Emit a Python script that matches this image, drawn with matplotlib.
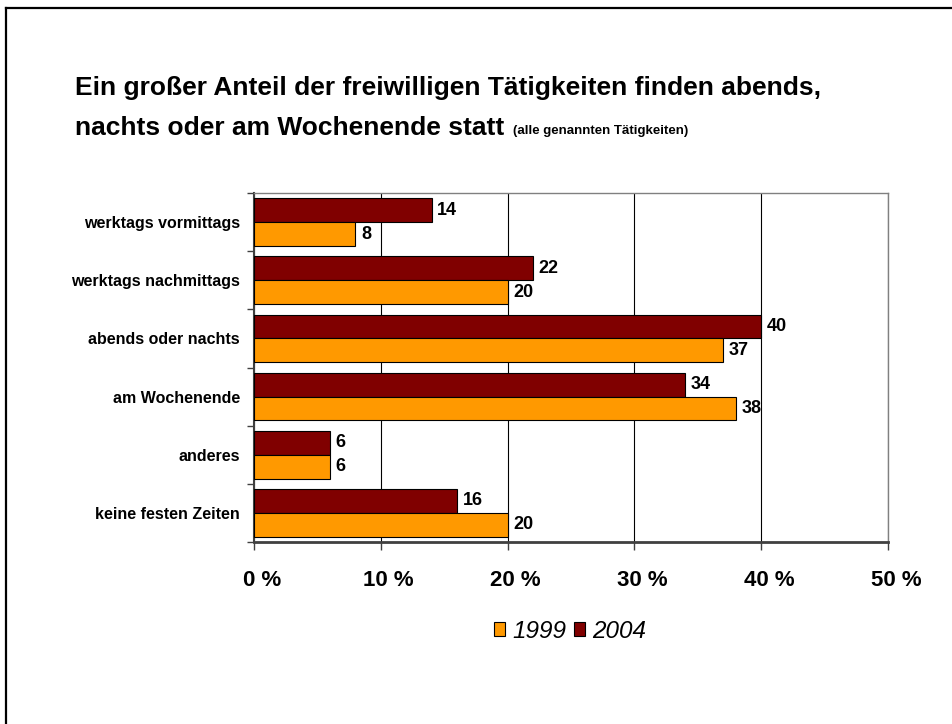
import matplotlib
matplotlib.use("Agg")
import matplotlib.pyplot as plt
from matplotlib.lines import Line2D
from matplotlib.transforms import ScaledTranslation
import numpy as np

plt.rcParams['font.family'] = ['Liberation Sans', 'DejaVu Sans']

categories = ["werktags vormittags", "werktags nachmittags", "abends oder nachts",
              "am Wochenende", "anderes", "keine festen Zeiten"]
values_1999 = [8, 20, 37, 38, 6, 20]
values_2004 = [14, 22, 40, 34, 6, 16]
xticks = [0, 10, 20, 30, 40, 50]
xtick_labels = ["0 %", "10 %", "20 %", "30 %", "40 %", "50 %"]
series_names = ["1999", "2004"]
col_1999 = "#FF9900"
col_2004 = "#800000"

W, H = 953, 724
fig = plt.figure(figsize=(W / 100, H / 100), dpi=100)

# outer frame (only top and left visible)
fig.add_artist(Line2D([6 / W, 1.0], [1 - 8 / H, 1 - 8 / H], color="black", lw=1.6,
                      transform=fig.transFigure))
fig.add_artist(Line2D([6 / W, 6 / W], [1 - 8 / H, 0.0], color="black", lw=1.6,
                      transform=fig.transFigure))

left, right = 254 / W, 888 / W
top, bottom = 1 - 193 / H, 1 - 542 / H
ax = fig.add_axes([left, bottom, right - left, top - bottom])

y = np.arange(len(categories))
h = 0.41
b04 = ax.barh(y - h / 2, values_2004, height=h, color=col_2004, edgecolor="black",
              linewidth=0.8, zorder=3, label=series_names[1])
b99 = ax.barh(y + h / 2, values_1999, height=h, color=col_1999, edgecolor="black",
              linewidth=0.8, zorder=3, label=series_names[0])

for bars, vals in ((b04, values_2004), (b99, values_1999)):
    for bar, v in zip(bars, vals):
        ax.annotate(str(v), xy=(bar.get_width(), bar.get_y() + bar.get_height() / 2),
                    xytext=(4, 0), textcoords="offset points", va="center", ha="left",
                    fontsize=13, fontweight="bold", color="black", zorder=4)

ax.set_xlim(0, 50)
ax.set_ylim(len(categories) - 0.5, -0.5)
ax.set_xticks(xticks)
ax.set_xticklabels([])
ax.tick_params(axis="x", length=6, width=1, color="#404040", direction="out")
lab_trans = ax.get_xaxis_transform() + ScaledTranslation(8 / 100, -38 / 100, fig.dpi_scale_trans)
for xv, lab in zip(xticks, xtick_labels):
    ax.text(xv, 0, lab, transform=lab_trans, ha="center", va="center",
            fontsize=16, fontweight="bold", clip_on=False)

ax.set_yticks(y)
ax.set_yticklabels(categories, fontsize=11.5, fontweight="bold")
ax.set_yticks(np.arange(len(categories) + 1) - 0.5, minor=True)
ax.tick_params(axis="y", which="major", length=0, pad=10)
ax.tick_params(axis="y", which="minor", length=5, width=1, color="#404040", direction="out")

ax.grid(axis="x", color="black", linewidth=0.8, zorder=0)
ax.set_axisbelow(True)

ax.spines["left"].set_color("#404040")
ax.spines["left"].set_linewidth(1.5)
ax.spines["bottom"].set_color("#404040")
ax.spines["bottom"].set_linewidth(2)
for s in ("top", "right"):
    ax.spines[s].set_color("#808080")
    ax.spines[s].set_linewidth(1)

# title
fig.text(75 / W, 1 - 88 / H, "Ein großer Anteil der freiwilligen Tätigkeiten finden abends,",
         fontsize=19, fontweight="bold", va="center", ha="left")
t2 = fig.text(75 / W, 1 - 128 / H, "nachts oder am Wochenende statt",
              fontsize=19, fontweight="bold", va="center", ha="left")
ax.annotate("(alle genannten Tätigkeiten)", xy=(1, 0), xycoords=t2, xytext=(6, 2.5),
            textcoords="offset points", fontsize=9.5, fontweight="bold",
            va="bottom", ha="left", annotation_clip=False)

# legend
handles = [b99, b04]
leg = fig.legend(handles, series_names, loc="center", bbox_to_anchor=(570 / W, 1 - 631 / H),
                 ncol=2, frameon=False, prop={"size": 17.5, "style": "italic"},
                 handlelength=0.45, handleheight=0.55, handletextpad=0.3, columnspacing=0.3)

fig.savefig("out.png", dpi=100)
